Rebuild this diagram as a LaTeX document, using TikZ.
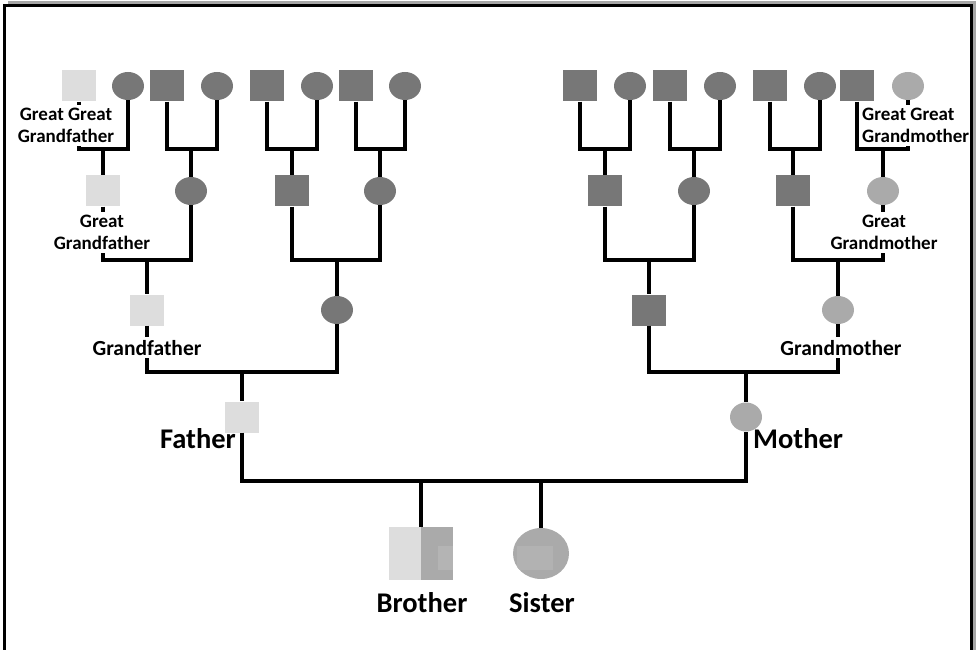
\documentclass[tikz,border=0pt]{standalone}
\usepackage{fontspec}
\setmainfont{Carlito}
\usetikzlibrary{shapes.geometric}
\definecolor{tonedark}{HTML}{777777}
\definecolor{tonemid}{HTML}{AAAAAA}
\definecolor{tonelight}{HTML}{DDDDDD}

\begin{document}
\begin{tikzpicture}[x=1pt, y=-1pt,
    male/.style={rectangle, minimum width=34pt, minimum height=31pt, inner sep=0pt},
    female/.style={ellipse, minimum width=32pt, minimum height=28pt, inner sep=0pt},
    bond/.style={line width=4pt},
    kin/.style={font=\bfseries\fontsize{19}{22}\selectfont, fill=white, inner sep=3pt, align=center},
    midkin/.style={kin, font=\bfseries\fontsize{21.5}{24}\selectfont},
    bigkin/.style={font=\bfseries\fontsize{28.5}{32}\selectfont, inner sep=0pt}]

    \useasboundingbox (0,0) rectangle (978,650);
    \draw[line width=3pt, black!35] (8,3) -- (974,3) -- (974,660);
    \draw[line width=3pt] (4,6) rectangle (971,660);

    \node[male, fill=tonelight] (p41) at (79,86) {};
    \node[female, fill=tonedark] (p42) at (128,86) {};
    \node[male, fill=tonedark] (p43) at (167,86) {};
    \node[female, fill=tonedark] (p44) at (217,86) {};
    \node[male, fill=tonedark] (p45) at (267,86) {};
    \node[female, fill=tonedark] (p46) at (317,86) {};
    \node[male, fill=tonedark] (p47) at (356,86) {};
    \node[female, fill=tonedark] (p48) at (405,86) {};
    \node[male, fill=tonedark] (m41) at (580,86) {};
    \node[female, fill=tonedark] (m42) at (630,86) {};
    \node[male, fill=tonedark] (m43) at (670,86) {};
    \node[female, fill=tonedark] (m44) at (720,86) {};
    \node[male, fill=tonedark] (m45) at (770,86) {};
    \node[female, fill=tonedark] (m46) at (820,86) {};
    \node[male, fill=tonedark] (m47) at (857,86) {};
    \node[female, fill=tonemid] (m48) at (908,86) {};

    \node[male, fill=tonelight] (p31) at (103,191) {};
    \node[female, fill=tonedark] (p32) at (191,191) {};
    \node[male, fill=tonedark] (p33) at (292,191) {};
    \node[female, fill=tonedark] (p34) at (380,191) {};
    \node[male, fill=tonedark] (m31) at (605,191) {};
    \node[female, fill=tonedark] (m32) at (694,191) {};
    \node[male, fill=tonedark] (m33) at (793,191) {};
    \node[female, fill=tonemid] (m34) at (883,191) {};

    \node[male, fill=tonelight] (p21) at (147,310) {};
    \node[female, fill=tonedark] (p22) at (337,310) {};
    \node[male, fill=tonedark] (m21) at (649,310) {};
    \node[female, fill=tonemid] (m22) at (838,310) {};

    \node[male, fill=tonelight] (father) at (242,417) {};
    \node[female, fill=tonemid, minimum height=29pt] (mother) at (746,417) {};

    \node[male, fill=tonelight, minimum width=64pt, minimum height=53pt,
        path picture={\fill[tonemid] (path picture bounding box.north) rectangle (path picture bounding box.south east);
        \fill[tonemid!88!white] ([xshift=-15pt, yshift=7.5pt]path picture bounding box.east) rectangle ([yshift=-16.5pt]path picture bounding box.east);}]
        (brother) at (421,553.5) {};
    \node[female, fill=tonemid, minimum width=56pt, minimum height=51pt,
        path picture={\fill[tonemid!90!white] ([xshift=-24pt, yshift=7.5pt]path picture bounding box.center) rectangle ([xshift=12pt, yshift=-16.5pt]path picture bounding box.center);}]
        (sister) at (541,553.5) {};

    \draw[bond] (p41.south) |- (p31 |- 0,149) -| (p42.south) (p31 |- 0,149) -- (p31.north);
    \draw[bond] (p43.south) |- (p32 |- 0,149) -| (p44.south) (p32 |- 0,149) -- (p32.north);
    \draw[bond] (p45.south) |- (p33 |- 0,149) -| (p46.south) (p33 |- 0,149) -- (p33.north);
    \draw[bond] (p47.south) |- (p34 |- 0,149) -| (p48.south) (p34 |- 0,149) -- (p34.north);
    \draw[bond] (m41.south) |- (m31 |- 0,149) -| (m42.south) (m31 |- 0,149) -- (m31.north);
    \draw[bond] (m43.south) |- (m32 |- 0,149) -| (m44.south) (m32 |- 0,149) -- (m32.north);
    \draw[bond] (m45.south) |- (m33 |- 0,149) -| (m46.south) (m33 |- 0,149) -- (m33.north);
    \draw[bond] (m47.south) |- (m34 |- 0,149) -| (m48.south) (m34 |- 0,149) -- (m34.north);

    \draw[bond] (p31.south) |- (p21 |- 0,260) -| (p32.south) (p21 |- 0,260) -- (p21.north);
    \draw[bond] (p33.south) |- (p22 |- 0,260) -| (p34.south) (p22 |- 0,260) -- (p22.north);
    \draw[bond] (m31.south) |- (m21 |- 0,260) -| (m32.south) (m21 |- 0,260) -- (m21.north);
    \draw[bond] (m33.south) |- (m22 |- 0,260) -| (m34.south) (m22 |- 0,260) -- (m22.north);

    \draw[bond] (p21.south) |- (father |- 0,372) -| (p22.south) (father |- 0,372) -- (father.north);
    \draw[bond] (m21.south) |- (mother |- 0,372) -| (m22.south) (mother |- 0,372) -- (mother.north);

    \draw[bond] (father.south) |- (mother |- 0,481) -- (mother.south);
    \draw[bond] (brother.north) -- (brother |- 0,481);
    \draw[bond] (sister.north) -- (sister |- 0,481);

    \node[kin] (lp41) at (66,125.5) {Great Great\\Grandfather};
    \node[kin] (lp31) at (102,232.5) {Great\\Grandfather};
    \node[midkin, anchor=base] (lp21) at (147,355) {Grandfather};
    \node[kin, align=left, anchor=west, inner xsep=1pt] (lm48) at (861,125.5) {Great Great\\Grandmother};
    \node[kin] (lm34) at (884,232.5) {Great\\Grandmother};
    \node[midkin, anchor=base] (lm22) at (841,355) {Grandmother};
    \node[bigkin, anchor=base east] (lfather) at (236,448) {Father};
    \node[bigkin, anchor=base west] (lmother) at (753,448) {Mother};
    \node[bigkin, anchor=base] (lbrother) at (422,612) {Brother};
    \node[bigkin, anchor=base] (lsister) at (542,612) {Sister};
\end{tikzpicture}
\end{document}
